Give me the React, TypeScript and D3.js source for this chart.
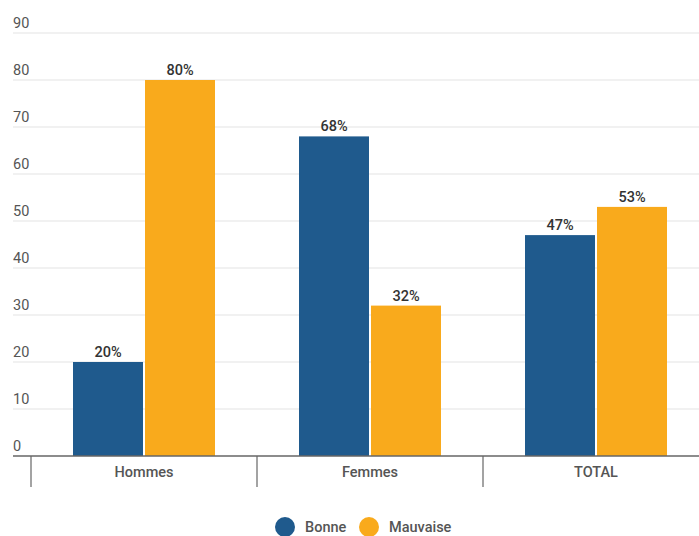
import React from "react";
import * as d3 from "d3";

const categories = ["Hommes", "Femmes", "TOTAL"];
const seriesNames = ["Bonne", "Mauvaise"];
const bonne = [20, 68, 47];
const mauvaise = [80, 32, 53];
const yTicks = [0, 10, 20, 30, 40, 50, 60, 70, 80, 90];
const colors = ["#1f5a8d", "#f9aa1c"];

const W = 699;
const H = 536;

export default function App() {
  const y = d3.scaleLinear().domain([0, 90]).range([456, 33]);
  const x = d3.scaleBand<string>().domain(categories).range([31, 31 + 226 * 3]).padding(0);
  const inner = d3.scaleBand<string>().domain(seriesNames).range([-71, 71]).paddingInner(0.028);
  const series = [bonne, mauvaise];
  const font = "Roboto, 'Noto Sans', sans-serif";

  return (
    <svg width={W} height={H} style={{ position: "absolute", left: 0, top: 0, background: "#fff" }}>
      {yTicks.map((t) => (
        <g key={t}>
          {t > 0 && (
            <line x1={13} x2={W} y1={y(t)} y2={y(t)} stroke="#e3e3e3" strokeWidth={1.2} />
          )}
          <text x={13} y={y(t) - 5} fontFamily={font} fontSize={14.5} fill="#555">
            {t}
          </text>
        </g>
      ))}
      {categories.map((c, i) => {
        const cx = (x(c) as number) + x.bandwidth() / 2;
        return (
          <g key={c}>
            {series.map((vals, s) => {
              const bx = cx + (inner(seriesNames[s]) as number);
              const v = vals[i];
              return (
                <g key={s}>
                  <rect x={bx} y={y(v)} width={inner.bandwidth()} height={y(0) - y(v)} fill={colors[s]} />
                  <text
                    x={bx + inner.bandwidth() / 2}
                    y={y(v) - 5}
                    textAnchor="middle"
                    fontFamily={font}
                    fontSize={14.5}
                    fontWeight={500}
                    fill="#333"
                  >
                    {v}%
                  </text>
                </g>
              );
            })}
            <text x={cx} y={477} textAnchor="middle" fontFamily={font} fontSize={14.5} fontWeight={500} fill="#555">
              {c}
            </text>
          </g>
        );
      })}
      <line x1={13} x2={W} y1={y(0)} y2={y(0)} stroke="#666" strokeWidth={1.5} />
      {[0, 1, 2, 3].map((k) => {
        const tx = 31 + k * x.step();
        return <line key={k} x1={tx} x2={tx} y1={y(0)} y2={487} stroke="#666" strokeWidth={1.2} />;
      })}
      <g fontFamily={font} fontSize={14.5} fontWeight={500} fill="#555">
        <circle cx={285} cy={527} r={10} fill={colors[0]} />
        <text x={305} y={532}>{seriesNames[0]}</text>
        <circle cx={369} cy={527} r={10} fill={colors[1]} />
        <text x={389} y={532}>{seriesNames[1]}</text>
      </g>
    </svg>
  );
}
